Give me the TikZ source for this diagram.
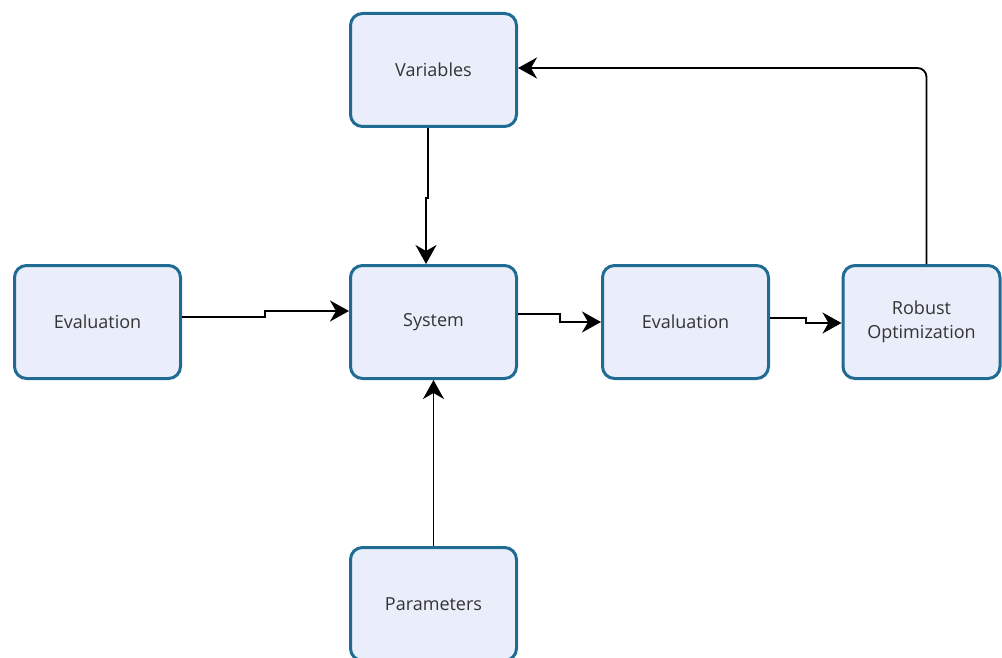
\documentclass[tikz,border=0pt]{standalone}
\usepackage{fontspec}
\setmainfont{Open Sans}
\usetikzlibrary{arrows.meta}
\definecolor{boxline}{HTML}{1F6B94}
\definecolor{boxfill}{HTML}{E9EEFA}
\definecolor{txt}{HTML}{333333}
\begin{document}
\begin{tikzpicture}[x=1pt,y=-1pt,
  box/.style={draw=boxline,fill=boxfill,line width=3pt,rounded corners=12pt,
    minimum width=166pt,minimum height=113pt,align=center,text=txt,
    font=\fontsize{18}{24}\selectfont,inner sep=0pt},
  conn/.style={draw=black,line width=1.8pt,-{Stealth[length=19pt,width=21pt,inset=6pt]}}]
\useasboundingbox[fill=white] (0,0) rectangle (1002,658);
\node[box] (var) at (433.5,70) {Variables};
\node[box] (sys) at (433.5,322) {System};
\node[box] (evl) at (97.5,322) {Evaluation};
\node[box] (evr) at (685.5,322) {Evaluation};
\node[box,minimum width=157pt] (rob) at (921.5,322) {Robust\\Optimization};
\node[box] (par) at (433.5,604) {Parameters};
\draw[conn] ([yshift=5pt]evl.east) -- ++(83,0) |- ([yshift=11pt]sys.west);
\draw[conn] ([yshift=8pt]sys.east) -- ++(42,0) |- (evr.west);
\draw[conn] ([yshift=4pt]evr.east) -- ++(36,0) |- ([yshift=-1pt]rob.west);
\draw[conn] ([xshift=-5.5pt]var.south) -- ++(0,70) -| ([xshift=-7.5pt]sys.north);
\draw[conn] (par.north) -- (sys.south);
\draw[conn,rounded corners=9pt] ([xshift=5pt]rob.north) |- ([yshift=2pt]var.east);
\end{tikzpicture}
\end{document}
